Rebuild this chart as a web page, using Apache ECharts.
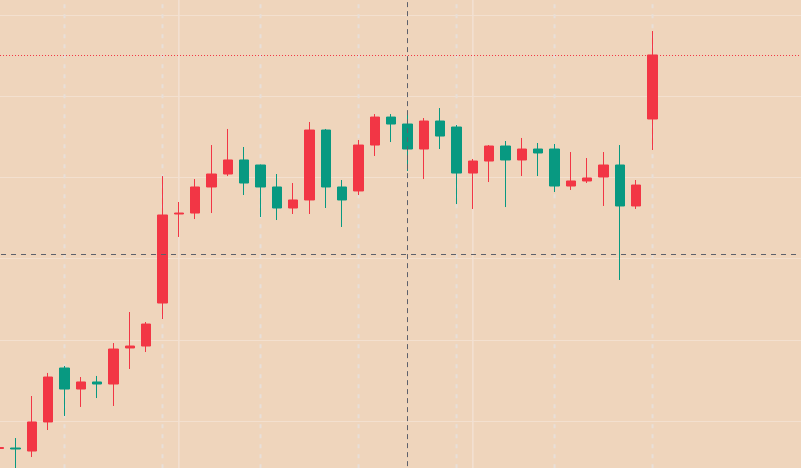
<!DOCTYPE html>
<html>
<head>
<meta charset="utf-8">
<script src="https://cdn.jsdelivr.net/npm/echarts@6/dist/echarts.min.js"></script>
<style>
html,body{margin:0;padding:0;background:#efd5bc;overflow:hidden}
#c{width:801px;height:468px}
</style>
</head>
<body>
<div id="c"></div>
<script>
// category slots (candles plus empty slots to the right)
const categories = ['0','1','2','3','4','5','6','7','8','9','10','11','12','13','14','15','16','17','18','19',
  '20','21','22','23','24','25','26','27','28','29','30','31','32','33','34','35','36','37','38','39',
  '40','41','42','43','44','45','46','47','48','49'];

const opens  = [96.61, 96.67, 96.30, 99.88, 106.53, 103.94, 104.81, 104.56, 109.00, 109.24,
  114.54, 125.51, 125.63, 128.84, 130.44, 132.17, 131.55, 128.84, 126.25, 127.24,
  135.86, 128.84, 128.35, 134.01, 137.46, 136.60, 133.52, 136.97, 136.23, 130.56,
  132.04, 133.89, 132.17, 133.52, 133.52, 128.96, 129.58, 130.07, 131.55, 126.50, 137.22];
const closes = [96.73, 96.55, 99.88, 105.42, 103.94, 104.81, 104.56, 108.87, 109.24, 111.95,
  125.39, 125.63, 128.84, 130.44, 132.17, 129.33, 128.84, 126.25, 127.24, 135.86,
  128.84, 127.24, 134.01, 137.46, 136.60, 133.52, 136.97, 135.12, 130.56, 132.04,
  133.89, 132.17, 133.52, 133.03, 128.96, 129.58, 129.95, 131.55, 126.50, 129.08, 145.11];
const lows   = [96.18, 93.35, 95.56, 98.89, 100.62, 101.73, 102.83, 101.85, 106.41, 108.50,
  112.57, 122.68, 124.89, 125.63, 130.19, 127.85, 125.14, 124.77, 125.51, 125.51,
  126.25, 123.91, 127.85, 132.66, 134.38, 130.81, 129.82, 133.52, 126.74, 126.13,
  129.45, 126.37, 130.19, 130.19, 128.22, 128.47, 129.33, 126.50, 117.38, 126.13, 133.40];
const highs  = [97.04, 97.90, 103.08, 105.92, 106.78, 105.42, 105.55, 109.61, 113.43, 112.20,
  130.19, 126.99, 129.82, 134.01, 135.99, 133.77, 131.61, 130.44, 129.33, 136.85,
  135.99, 129.70, 134.63, 137.83, 137.83, 137.96, 137.34, 138.57, 136.48, 132.29,
  134.01, 134.51, 134.88, 134.26, 134.14, 133.15, 132.41, 133.15, 134.01, 129.70, 148.06];

// vertical grid markers (category slots)
const dashedGridAt = ['4','10','16','22','28','34','40'];
const solidGridAt  = ['11','29'];
// crosshair
const crosshairX = '25';
const crosshairY = 120.54;
const lastClose = closes[closes.length - 1];

const candleData = opens.map((o, i) => [o, closes[i], lows[i], highs[i]]);
const vGridData = dashedGridAt.map(c => [c, 100, 0]).concat(solidGridAt.map(c => [c, 100, 1]));

function renderVGrid(params, api) {
  const x = api.coord([api.value(0), 100])[0];
  const cs = params.coordSys;
  const solid = api.value(2) === 1;
  return {
    type: 'line',
    shape: { x1: x, y1: cs.y, x2: x, y2: cs.y + cs.height },
    style: solid
      ? { stroke: '#f2e1d2', lineWidth: 1.5, fill: null }
      : { stroke: '#e7dfd9', lineWidth: 2, lineDash: [4, 6], fill: null }
  };
}

const chart = echarts.init(document.getElementById('c'), null, { renderer: 'canvas' });
chart.setOption({
  animation: false,
  backgroundColor: '#efd5bc',
  grid: { left: -8.97, right: -6.7, top: -65.84, bottom: -34.14, outerBoundsMode: 'none', containLabel: false },
  xAxis: {
    type: 'category',
    data: categories,
    boundaryGap: true,
    axisLine: { show: false },
    axisTick: { show: false },
    axisLabel: { show: false },
    splitLine: { show: false }
  },
  yAxis: {
    type: 'value',
    min: 90,
    max: 160,
    interval: 10,
    axisLine: { show: false },
    axisTick: { show: false },
    axisLabel: { show: false },
    splitLine: { show: true, lineStyle: { color: '#f3e0cf', width: 1 } }
  },
  series: [
    {
      type: 'custom',
      z: 1,
      silent: true,
      data: vGridData,
      encode: { x: 0, y: 1 },
      renderItem: renderVGrid
    },
    {
      type: 'candlestick',
      z: 3,
      data: candleData,
      barWidth: 10,
      silent: true,
      itemStyle: {
        color: '#f23645',
        color0: '#089981',
        borderColor: '#f23645',
        borderColor0: '#089981',
        borderWidth: 1
      },
      markLine: {
        silent: true,
        symbol: ['none', 'none'],
        label: { show: false },
        emphasis: { disabled: true },
        data: [
          { yAxis: lastClose, lineStyle: { color: '#f23645', width: 1, type: [1, 2] } },
          { yAxis: crosshairY, lineStyle: { color: '#5d606b', width: 1, type: [5, 5] } },
          { xAxis: crosshairX, lineStyle: { color: '#5d606b', width: 1, type: [5, 4] } }
        ]
      }
    }
  ]
});
</script>
</body>
</html>
